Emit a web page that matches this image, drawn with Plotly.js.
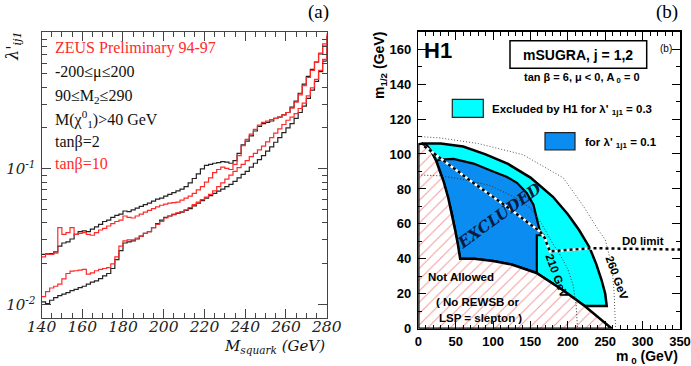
<!DOCTYPE html>
<html>
<head>
<meta charset="utf-8">
<script src="https://cdn.plot.ly/plotly-3.0.1.min.js"></script>
<style>
  body { margin: 0; background: white; }
  #chart { width: 691px; height: 366px; }
</style>
</head>
<body>
<div id="chart"></div>
<script>
// ---- panel (a): lambda' limits vs squark mass (GeV) ----
var mSquark = [140,142,144,146,148,150,152,154,156,158,160,162,164,166,168,170,172,174,176,178,
  180,182,184,186,188,190,192,194,196,198,200,202,204,206,208,210,212,214,216,218,
  220,222,224,226,228,230,232,234,236,238,240,242,244,246,248,250,252,254,256,258,
  260,262,264,266,268,270,272,274,276,278,280];

// upper pair (tan beta = 2 black, tan beta = 10 red)
var blackUpper = [.0235,.0237,.0238,.0245,.0270,.0285,.0290,.0305,.0330,.0345,.0350,.0345,.0360,.0375,.0390,.0410,.0420,.0440,.0455,.0465,
  .0490,.0485,.0500,.0515,.0530,.0545,.0560,.0580,.0600,.0610,.0630,.0650,.0670,.0690,.0710,.0740,.0790,.0850,.0920,.1000,
  .1060,.1080,.1100,.1110,.1130,.1120,.1100,.1150,.1300,.1500,.1600,.1750,.1900,.2050,.2150,.2200,.2250,.2350,.2400,.2500,
  .2600,.2850,.3150,.3600,.4200,.4800,.5400,.6100,.7000,.8000,.9500];
var redUpper = [.0225,.0235,.0235,.0240,.0370,.0330,.0340,.0370,.0330,.0335,.0340,.0330,.0325,.0340,.0355,.0365,.0380,.0395,.0410,.0420,
  .0450,.0440,.0435,.0450,.0465,.0480,.0495,.0510,.0525,.0540,.0550,.0560,.0565,.0570,.0590,.0610,.0630,.0660,.0700,.0740,
  .0800,.0860,.0940,.0990,.1030,.1010,.0990,.1080,.1250,.1480,.1650,.1800,.1950,.2100,.2200,.2250,.2300,.2350,.2400,.2500,
  .2600,.2800,.3100,.3500,.4100,.4700,.5300,.6100,.7100,.8300,.9900];

// lower pair
var blackLower = [.0105,.0102,.0108,.0113,.0117,.0120,.0123,.0127,.0130,.0134,.0137,.0142,.0147,.0150,.0156,.0163,.0170,.0185,.0215,.0250,
  .0285,.0290,.0295,.0305,.0320,.0335,.0345,.0370,.0395,.0420,.0440,.0450,.0460,.0470,.0480,.0495,.0510,.0535,.0560,.0585,
  .0610,.0635,.0660,.0685,.0710,.0740,.0770,.0810,.0860,.0910,.0960,.1030,.1100,.1170,.1250,.1350,.1450,.1570,.1700,.1850,
  .2000,.2150,.2350,.2600,.2900,.3300,.3800,.4400,.5200,.6200,.8000];
var redLower = [.0115,.0125,.0133,.0137,.0142,.0155,.0170,.0177,.0178,.0180,.0182,.0168,.0172,.0178,.0182,.0185,.0188,.0200,.0225,.0270,
  .0295,.0300,.0300,.0310,.0320,.0335,.0345,.0370,.0390,.0410,.0435,.0450,.0465,.0475,.0485,.0500,.0520,.0545,.0570,.0595,
  .0620,.0650,.0690,.0740,.0790,.0840,.0900,.0960,.1020,.1080,.1150,.1230,.1300,.1380,.1470,.1580,.1700,.1830,.1970,.2120,
  .2280,.2400,.2550,.2780,.3050,.3450,.3950,.4550,.5300,.6400,.8300];

var xTicks = [140, 160, 180, 200, 220, 240, 260, 280];

// ---- panel (b): mSUGRA plane, m0 / m1/2 in GeV ----
var notAllowedM0  = [0, 0, 5, 12, 18, 24, 29, 34, 40, 45, 49, 53, 56, 75, 100, 125, 158, 192, 222.5, 259, 0];
var notAllowedM12 = [0, 105.5, 106, 104.5, 101, 96, 90, 84, 75, 66, 57, 48, 40, 40, 38.8, 36.7, 31.9, 22.4, 13, 0, 0];

var cyanM0  = [5, 30, 60, 90, 120, 150, 180, 200, 215, 229, 238, 245, 250, 252, 252, 222.5, 192, 158, 125, 100, 75, 56, 53, 49, 45, 40, 34, 29, 24, 18, 12, 5];
var cyanM12 = [106, 106, 104.3, 99.8, 94.3, 86.5, 75.5, 65.5, 56.5, 46.5, 37, 28, 20, 15, 13, 13, 22.4, 31.9, 36.7, 38.8, 40, 40, 48, 57, 66, 75, 84, 90, 96, 101, 104.5, 106];

var blueM0  = [24, 29, 47, 74, 100, 118, 132, 145, 154, 158, 163, 168, 158.5, 158.5, 125, 100, 75, 56, 53, 49, 45, 40, 34, 29, 24];
var blueM12 = [96, 96.8, 97.2, 94.5, 90, 87, 83.5, 77.7, 71, 63, 55, 53.5, 53.5, 32, 36.7, 38.8, 40, 40, 48, 57, 66, 75, 84, 90, 96];

var arc260M0  = [0, 29, 80, 140, 194, 221, 240, 250, 259, 262, 263, 264];
var arc260M12 = [110, 109.2, 106, 99.6, 86.3, 70, 57, 51, 36, 20, 8, 0];
var arc210M0  = [0, 30, 65, 96, 130, 150, 165, 178, 190, 200, 207, 211, 213];
var arc210M12 = [88, 87.5, 85, 82, 75, 69, 60, 50, 42, 34, 25, 14, 0];
var d0M0  = [8, 40, 75, 118, 140, 163, 169, 176, 230, 350];
var d0M12 = [104.5, 94, 83, 70, 63, 55.5, 52, 44.2, 46.1, 45.3];

function px(x) { return x / 691; }
function py(y) { return 1 - y / 366; }

var serif = 'Liberation Serif';
var serifItalic = 'DejaVu Serif';
var sans = 'Liberation Sans';

var data = [
  {x: mSquark, y: blackLower, mode: 'lines', line: {color: '#222', width: 1.2, shape: 'hv'}, xaxis: 'x', yaxis: 'y'},
  {x: mSquark, y: blackUpper, mode: 'lines', line: {color: '#222', width: 1.2, shape: 'hv'}, xaxis: 'x', yaxis: 'y'},
  {x: mSquark, y: redLower, mode: 'lines', line: {color: '#ff2a2a', width: 1.2, shape: 'hv'}, xaxis: 'x', yaxis: 'y'},
  {x: mSquark, y: redUpper, mode: 'lines', line: {color: '#ff2a2a', width: 1.2, shape: 'hv'}, xaxis: 'x', yaxis: 'y'},

  {x: cyanM0, y: cyanM12, mode: 'lines', fill: 'toself', fillcolor: '#00ffff',
   line: {color: 'black', width: 2.5}, xaxis: 'x2', yaxis: 'y2'},
  {x: blueM0, y: blueM12, mode: 'lines', fill: 'toself', fillcolor: '#0a8cf0',
   line: {color: 'black', width: 2.2}, xaxis: 'x2', yaxis: 'y2'},
  {x: notAllowedM0, y: notAllowedM12, mode: 'lines', fill: 'toself', fillcolor: 'white',
   fillpattern: {shape: '/', fgcolor: '#f29a9a', bgcolor: 'white', size: 8, solidity: 0.12},
   line: {color: 'black', width: 2.5}, xaxis: 'x2', yaxis: 'y2'},
  {x: arc260M0, y: arc260M12, mode: 'lines', line: {color: '#555', width: 1, dash: '1px,2px'}, xaxis: 'x2', yaxis: 'y2'},
  {x: arc210M0, y: arc210M12, mode: 'lines', line: {color: '#333', width: 1, dash: '1px,2px'}, xaxis: 'x2', yaxis: 'y2'},
  {x: d0M0, y: d0M12, mode: 'lines', line: {color: 'white', width: 2.5}, xaxis: 'x2', yaxis: 'y2'},
  {x: d0M0, y: d0M12, mode: 'lines', line: {color: 'black', width: 2.5, dash: 'dot'}, xaxis: 'x2', yaxis: 'y2'}
];

var leftTickFont = {family: serifItalic, size: 15.5, style: 'italic', color: '#222'};
var rightTickFont = {family: sans, size: 13, weight: 'bold', color: 'black'};

var annotations = [
  // panel (a) labels
  {text: '(a)', x: px(318), y: py(12), font: {family: serif, size: 19, color: 'black'}},
  {text: 'ZEUS Preliminary 94-97', x: px(53), y: py(48), xanchor: 'left', font: {family: serif, size: 16, color: '#ff2a2a'}},
  {text: '-200≤μ≤200', x: px(53), y: py(72), xanchor: 'left', font: {family: serif, size: 16, color: '#111'}},
  {text: '90≤M<sub>2</sub>≤290', x: px(53), y: py(96), xanchor: 'left', font: {family: serif, size: 16, color: '#111'}},
  {text: 'M(χ<sup>0</sup><sub>1</sub>)>40 GeV', x: px(53), y: py(119), xanchor: 'left', font: {family: serif, size: 16, color: '#111'}},
  {text: 'tanβ=2', x: px(53), y: py(142), xanchor: 'left', font: {family: serif, size: 16, color: '#111'}},
  {text: 'tanβ=10', x: px(53), y: py(164), xanchor: 'left', font: {family: serif, size: 16, color: '#ff2a2a'}},
  {text: "λ'<sub>ij1</sub>", x: px(13), y: py(46), textangle: -90, font: {family: serifItalic, size: 16, style: 'italic', color: '#111'}},
  {text: 'M<sub>squark</sub> (GeV)', x: px(327), y: py(346), xanchor: 'right', font: {family: serifItalic, size: 15, style: 'italic', color: '#111'}},

  // panel (b) labels
  {text: '(b)', x: px(667), y: py(12), font: {family: serif, size: 19, color: 'black'}},
  {text: 'H1', x: px(422), y: py(50), xanchor: 'left', font: {family: sans, size: 22, weight: 'bold', color: 'black'}},
  {text: 'mSUGRA, j = 1,2', x: px(578), y: py(54.5), font: {family: sans, size: 14, weight: 'bold', color: 'black'}},
  {text: '(b)', x: px(666), y: py(48), font: {family: sans, size: 10, color: 'black'}},
  {text: 'tan β = 6, μ < 0, A<sub> 0</sub> = 0', x: px(582), y: py(78), font: {family: sans, size: 11, weight: 'bold', color: 'black'}},
  {text: "Excluded by H1 for λ' <sub>1j1</sub> = 0.3", x: px(490), y: py(110), xanchor: 'left', font: {family: sans, size: 11.5, weight: 'bold', color: 'black'}},
  {text: "for λ' <sub>1j1</sub> = 0.1", x: px(583), y: py(143), xanchor: 'left', font: {family: sans, size: 11.5, weight: 'bold', color: 'black'}},
  {text: 'EXCLUDED', x: px(499), y: py(215), textangle: -36, font: {family: serifItalic, size: 15.5, style: 'italic', weight: 'bold', color: '#0a1a40'}},
  {text: '210 GeV', x: px(557), y: py(276), textangle: 70, font: {family: sans, size: 11.5, weight: 'bold', color: 'black'}},
  {text: '260 GeV', x: px(617), y: py(278), textangle: 70, font: {family: sans, size: 11.5, weight: 'bold', color: 'black'}},
  {text: 'D0 limit', x: px(643), y: py(241), font: {family: sans, size: 11.5, weight: 'bold', color: 'black'}},
  {text: 'Not Allowed', x: px(461), y: py(277), font: {family: sans, size: 11.5, weight: 'bold', color: 'black'}},
  {text: '( No REWSB or', x: px(478), y: py(302), font: {family: sans, size: 11.5, weight: 'bold', color: 'black'}},
  {text: 'LSP = slepton )', x: px(480), y: py(318), font: {family: sans, size: 11.5, weight: 'bold', color: 'black'}},
  {text: 'm<sub>1/2</sub> (GeV)', x: px(380), y: py(66), textangle: -90, font: {family: sans, size: 14, weight: 'bold', color: 'black'}},
  {text: 'm<sub> 0</sub> (GeV)', x: px(680), y: py(357), xanchor: 'right', font: {family: sans, size: 14, weight: 'bold', color: 'black'}}
];
annotations.forEach(function (a) {
  a.xref = 'paper'; a.yref = 'paper'; a.showarrow = false;
  if (!a.xanchor) a.xanchor = 'center';
  a.yanchor = 'middle';
});

var shapes = [
  {type: 'rect', xref: 'paper', yref: 'paper', x0: px(510), x1: px(646.7), y0: py(40.7), y1: py(68.3),
   line: {color: 'black', width: 1.5}, fillcolor: 'white', layer: 'above'},
  {type: 'rect', xref: 'paper', yref: 'paper', x0: px(452.3), x1: px(483.3), y0: py(99.3), y1: py(117.3),
   line: {color: '#222', width: 1.2}, fillcolor: '#00ffff', layer: 'above'},
  {type: 'rect', xref: 'paper', yref: 'paper', x0: px(545), x1: px(575), y0: py(132.7), y1: py(150),
   line: {color: '#222', width: 1.2}, fillcolor: '#0a8cf0', layer: 'above'}
];

var layout = {
  width: 691, height: 366,
  margin: {l: 0, r: 0, t: 0, b: 0},
  paper_bgcolor: 'white', plot_bgcolor: 'white',
  showlegend: false,
  xaxis: {
    anchor: 'y', domain: [px(41.5), px(326.7)], range: [140, 280],
    tickvals: xTicks, ticks: 'inside', ticklen: 9, tickcolor: '#444',
    mirror: 'allticks', showline: true, linecolor: '#444', linewidth: 1,
    showgrid: false, zeroline: false, tickfont: leftTickFont, ticklabelstandoff: -6,
    minor: {ticks: 'inside', ticklen: 5, dtick: 5, tickcolor: '#444', showgrid: false}
  },
  yaxis: {
    anchor: 'x', domain: [py(318), py(32)], type: 'log', range: [-2.097, 0.007],
    tickvals: [0.01, 0.1], ticktext: ['10<sup>-2</sup>', '10<sup>-1</sup>'],
    ticks: 'inside', ticklen: 9, tickcolor: '#444',
    mirror: 'allticks', showline: true, linecolor: '#444', linewidth: 1,
    showgrid: false, zeroline: false,
    tickfont: {family: serifItalic, size: 15, style: 'italic', color: '#222'}, ticklabelstandoff: 2,
    minor: {ticks: 'inside', ticklen: 5, tickcolor: '#444', showgrid: false, tickmode: 'array',
      tickvals: [0.02, 0.03, 0.04, 0.05, 0.06, 0.07, 0.08, 0.09, 0.2, 0.3, 0.4, 0.5, 0.6, 0.7, 0.8, 0.9]}
  },
  xaxis2: {
    anchor: 'y2', domain: [px(418.3), px(680)], range: [0, 350],
    tick0: 0, dtick: 50, ticks: 'inside', ticklen: 8, tickcolor: 'black',
    mirror: 'allticks', showline: true, linecolor: 'black', linewidth: 1.5,
    showgrid: false, zeroline: false, tickfont: rightTickFont, ticklabelstandoff: 0,
    minor: {ticks: 'inside', ticklen: 4, dtick: 10, tickcolor: 'black', showgrid: false}
  },
  yaxis2: {
    anchor: 'x2', domain: [py(328.7), py(31.7)], range: [0, 170],
    tick0: 0, dtick: 20, ticks: 'inside', ticklen: 8, tickcolor: 'black',
    mirror: 'allticks', showline: true, linecolor: 'black', linewidth: 1.5,
    showgrid: false, zeroline: false, tickfont: rightTickFont, ticklabelstandoff: 3,
    minor: {ticks: 'inside', ticklen: 4, dtick: 10, tickcolor: 'black', showgrid: false}
  },
  annotations: annotations,
  shapes: shapes
};

Plotly.newPlot('chart', data, layout, {displayModeBar: false, staticPlot: true});
</script>
</body>
</html>
